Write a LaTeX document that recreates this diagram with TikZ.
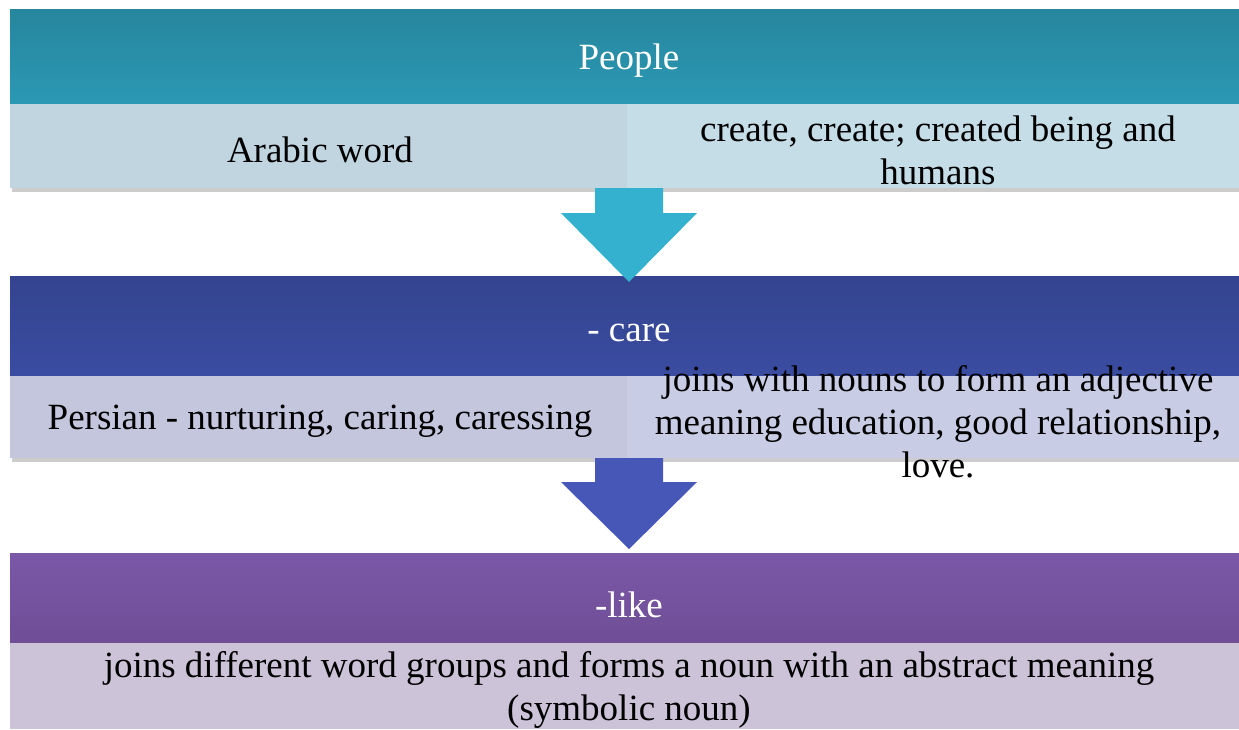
\documentclass[tikz,border=0pt]{standalone}
\usepackage{fontspec}
\newfontfamily\lserif{Liberation Serif}
\definecolor{tealA}{HTML}{26869D}
\definecolor{tealB}{HTML}{2C98B4}
\definecolor{lightA}{HTML}{C1D5E1}
\definecolor{lightAr}{HTML}{C5DDE7}
\definecolor{arrowA}{HTML}{35B1D0}
\definecolor{navyA}{HTML}{34448F}
\definecolor{navyB}{HTML}{3A4CA1}
\definecolor{lightB}{HTML}{C4C6DE}
\definecolor{lightBr}{HTML}{C8CCE4}
\definecolor{arrowB}{HTML}{4657B8}
\definecolor{purpA}{HTML}{7B58A8}
\definecolor{purpB}{HTML}{6F4E96}
\definecolor{lightC}{HTML}{CCC3D8}
\tikzset{
  txt/.style={font=\lserif\fontsize{37}{43}\selectfont, align=center, inner sep=0pt},
  head/.style={txt, text=white},
  body/.style={txt, text=black},
  shadowbar/.style={fill=black!20},
}
\begin{document}
\begin{tikzpicture}[x=1pt,y=-1pt]
\useasboundingbox (0,0) rectangle (1239,729);
\fill[white] (0,0) rectangle (1239,729);

% ---------- box 1 ----------
\fill[shadowbar] (12,188) rectangle (1239,192);
\shade[top color=tealA, bottom color=tealB] (10,9) rectangle (1239,104);
\fill[lightA] (10,104) rectangle (627,188);
\fill[lightAr] (627,104) rectangle (1239,188);
\node[head] (h1) at (629,61) {People};
\node[body] (b1l) at (320,150) {Arabic word};
\node[body] (b1r) at (938,150) {create, create; created being and\\humans};

% ---------- box 2 ----------
\fill[shadowbar] (12,458) rectangle (1239,462);
\shade[top color=navyA, bottom color=navyB] (10,276) rectangle (1239,376);
\fill[lightB] (10,376) rectangle (627,458);
\fill[lightBr] (627,376) rectangle (1239,458);

% arrow 1
\fill[arrowA] (595,188) -- (663,188) -- (663,213) -- (697,213) -- (629,282) -- (561,213) -- (595,213) -- cycle;

\node[head] (h2) at (629,333) {- care};
\node[body] (b2l) at (320,421) {Persian - nurturing, caring, caressing};
\node[body] (b2r) at (938,422) {joins with nouns to form an adjective\\meaning education, good relationship,\\love.};

% ---------- box 3 ----------
\shade[top color=purpA, bottom color=purpB] (10,553) rectangle (1239,643);
\fill[lightC] (10,643) rectangle (1239,729);

% arrow 2
\fill[arrowB] (595,458) -- (663,458) -- (663,482) -- (697,482) -- (629,549) -- (561,482) -- (595,482) -- cycle;

\node[head] (h3) at (629,605) {-like};
\node[body] (b3) at (629,690) {joins different word groups and forms a noun with an abstract meaning\\(symbolic noun)};
\end{tikzpicture}
\end{document}
